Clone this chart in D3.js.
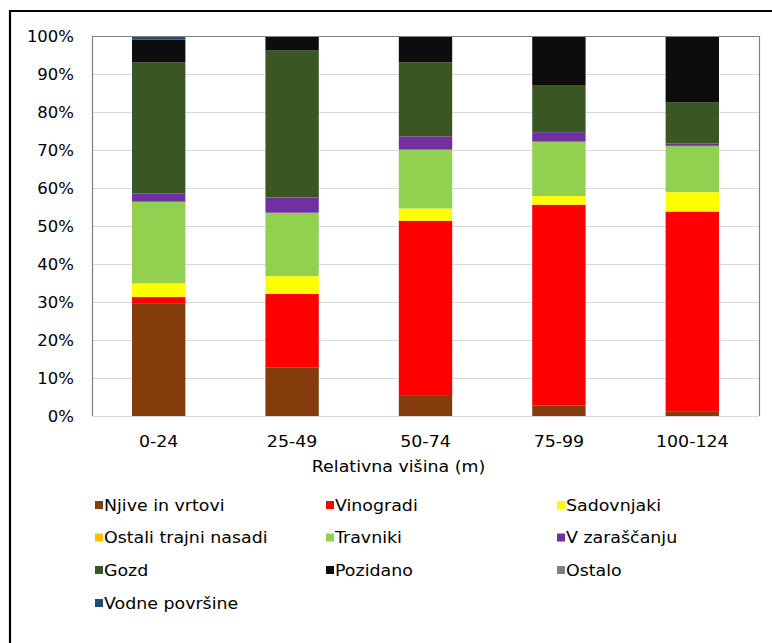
<!DOCTYPE html>
<html><head><meta charset="utf-8">
<script src="https://cdn.jsdelivr.net/npm/d3@7"></script>
<style>body{margin:0;background:#fff}svg{display:block}text{font-family:"DejaVu Sans",Verdana,sans-serif;fill:#000}</style>
</head><body><svg id="c" width="772" height="643"></svg>
<script>
const categories = ["0-24","25-49","50-74","75-99","100-124"];
const seriesNames = ["Njive in vrtovi","Vinogradi","Sadovnjaki","Ostali trajni nasadi","Travniki","V zaraščanju","Gozd","Pozidano","Ostalo","Vodne površine"];
const seriesColors = ["#843C0C","#FF0000","#FFFF00","#FFC000","#92D050","#7030A0","#3A5623","#0D0D0D","#808080","#1F4E79"];
const njive      = [29.7, 12.7, 5.5, 2.8, 1.1];
const vinogradi  = [1.6, 19.4, 45.9, 52.8, 52.7];
const sadovnjaki = [3.6, 4.7, 3.2, 2.3, 5.1];
const ostaliTrajni = [0.0, 0.0, 0.0, 0.0, 0.0];
const travniki   = [21.5, 16.7, 15.5, 14.3, 12.2];
const vZarascanju = [2.1, 4.0, 3.5, 2.5, 0.6];
const gozd       = [34.6, 38.8, 19.5, 12.4, 10.9];
const pozidano   = [5.9, 3.7, 6.9, 12.9, 17.4];
const ostalo     = [0.0, 0.0, 0.0, 0.0, 0.0];
const vodne      = [1.0, 0.0, 0.0, 0.0, 0.0];
const yTicks = [0,10,20,30,40,50,60,70,80,90,100];
const xTitle = "Relativna višina (m)";

const seriesValues = [njive,vinogradi,sadovnjaki,ostaliTrajni,travniki,vZarascanju,gozd,pozidano,ostalo,vodne];
const rows = categories.map((c,i)=>{const r={cat:c};seriesNames.forEach((s,j)=>r[s]=seriesValues[j][i]);return r;});
const stack = d3.stack().keys(seriesNames).offset(d3.stackOffsetExpand)(rows);

const svg = d3.select("#c");
const L=92,R=759,T=36,B=416;
const SX=1.16; // horizontal stretch of the original text
const x = d3.scaleBand().domain(categories).range([L,R]).paddingInner(0.6).paddingOuter(0.3);
const y = d3.scaleLinear().domain([0,1]).range([B,T]);

function stretched(g, px, py, str, anchor, size, sx){
  return g.append("text").attr("transform",`translate(${px},${py}) scale(${sx||SX},1)`)
    .attr("text-anchor",anchor).attr("font-size",size+"px").text(str);
}

// frame
svg.append("line").attr("x1",9).attr("x2",772).attr("y1",11).attr("y2",11).attr("stroke","#000").attr("stroke-width",2.2);
svg.append("line").attr("x1",10).attr("x2",10).attr("y1",10).attr("y2",643).attr("stroke","#000").attr("stroke-width",2.2);

// gridlines
svg.append("g").selectAll("line").data(yTicks.filter(t=>t>0&&t<100)).join("line")
  .attr("x1",L).attr("x2",R).attr("y1",d=>Math.round(y(d/100))+0.5).attr("y2",d=>Math.round(y(d/100))+0.5)
  .attr("stroke","#d9d9d9").attr("stroke-width",1);

// bars
svg.append("g").selectAll("g").data(stack).join("g")
  .attr("fill",(d,i)=>seriesColors[i])
  .selectAll("rect").data(d=>d).join("rect")
  .attr("x",d=>x(d.data.cat)).attr("width",x.bandwidth())
  .attr("y",d=>y(d[1])).attr("height",d=>Math.max(0,y(d[0])-y(d[1])));

// plot border
svg.append("line").attr("x1",L).attr("x2",R).attr("y1",B+0.5).attr("y2",B+0.5).attr("stroke","#d9d9d9");
svg.append("path").attr("d",`M${L+0.5},${B}V${T+0.5}H${R+0.5}V${B}`).attr("fill","none").attr("stroke","#808080").attr("stroke-width",1.2);

// y tick labels
const yl = svg.append("g");
yTicks.forEach(t=>stretched(yl, 74, y(t/100)+5.5, t+"%", "end", 15, 1.1));

// x tick labels
const xl = svg.append("g");
categories.forEach(c=>stretched(xl, x(c)+x.bandwidth()/2, 446.5, c, "middle", 15));

// axis title
stretched(svg, 398.5, 471.5, xTitle, "middle", 15);

// legend
const colX=[95,326,557], rowY=[505,537.5,570,603];
const lg = svg.append("g");
seriesNames.forEach((s,i)=>{
  const cx=colX[i%3], cy=rowY[Math.floor(i/3)];
  lg.append("rect").attr("x",cx).attr("y",cy-4).attr("width",8).attr("height",8).attr("fill",seriesColors[i]);
  stretched(lg, cx+9, cy+5.5, s, "start", 15);
});
</script></body></html>
